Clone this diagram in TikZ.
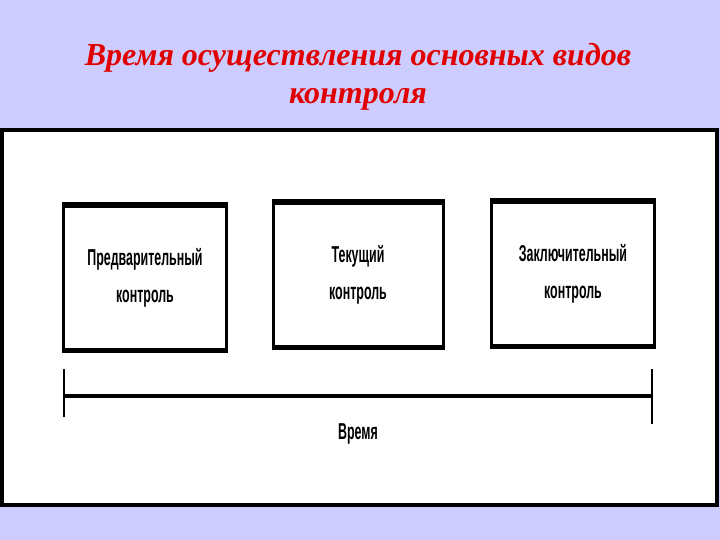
\documentclass[tikz,border=0pt]{standalone}
\usepackage{fontspec}
\setmainfont{Liberation Serif}
\newfontfamily\boxfont{Liberation Sans}
\usetikzlibrary{calc, positioning}
\definecolor{SlideLavender}{RGB}{204,204,255}
\definecolor{TitleRed}{RGB}{225,0,0}

\begin{document}
\begin{tikzpicture}[x = 1pt, y = -1pt]%
    %
    \def\boxwidth{163pt}%
    \def\boxheight{142pt}%
    \def\narrow#1{\scalebox{.54}[1]{#1}}%
    %
    \tikzstyle{title} = [text = TitleRed, font = \fontsize{32}{38}\selectfont\bfseries\itshape, align = center]%
    \tikzstyle{panel} = [draw = black, fill = white, line width = 4pt]%
    \tikzstyle{stage} = [draw = black, fill = white, line width = 3pt, minimum width = \boxwidth, minimum height = \boxheight, inner sep = 0pt, align = center, font = \boxfont\bfseries\fontsize{23}{37}\selectfont]%
    \tikzstyle{stagetop} = [line width = 6pt, draw = black]%
    \tikzstyle{timeline} = [line width = 4pt, draw = black]%
    \tikzstyle{tick} = [line width = 1.5pt, draw = black]%
    %
    \fill [SlideLavender] (0, 0) rectangle (720, 540);%
    %
    \node [title] (heading) at (358, 77) {Время осуществления основных видов\\контроля};%
    %
    \draw [panel] (2, 130) rectangle (717, 505);%
    %
    \node [stage] (pre) at (145, 278) {\narrow{Предварительный}\\\narrow{контроль}};%
    \node [stage, minimum width = 170pt] (cur) at (358, 275) {\narrow{Текущий}\\\narrow{контроль}};%
    \node [stage] (fin) at (573, 274) {\narrow{Заключительный}\\\narrow{контроль}};%
    \foreach \b in {pre, cur, fin}{%
        \draw [stagetop] (\b.north west) -- (\b.north east);%
        \draw [stagetop, line width = 5pt] (\b.south west) -- (\b.south east);%
    }%
    %
    \coordinate (tl) at (64, 396);%
    \coordinate (tr) at (652, 396);%
    \draw [timeline] (tl) -- (tr);%
    \draw [tick] ($(tl) + (0, -27)$) -- ($(tl) + (0, 21)$);%
    \draw [tick] ($(tr) + (0, -27)$) -- ($(tr) + (0, 28)$);%
    \node [below = 24pt of $(tl)!.5!(tr)$, font = \boxfont\bfseries\fontsize{23}{26}\selectfont] (time) {\narrow{Время}};%
\end{tikzpicture}
\end{document}
